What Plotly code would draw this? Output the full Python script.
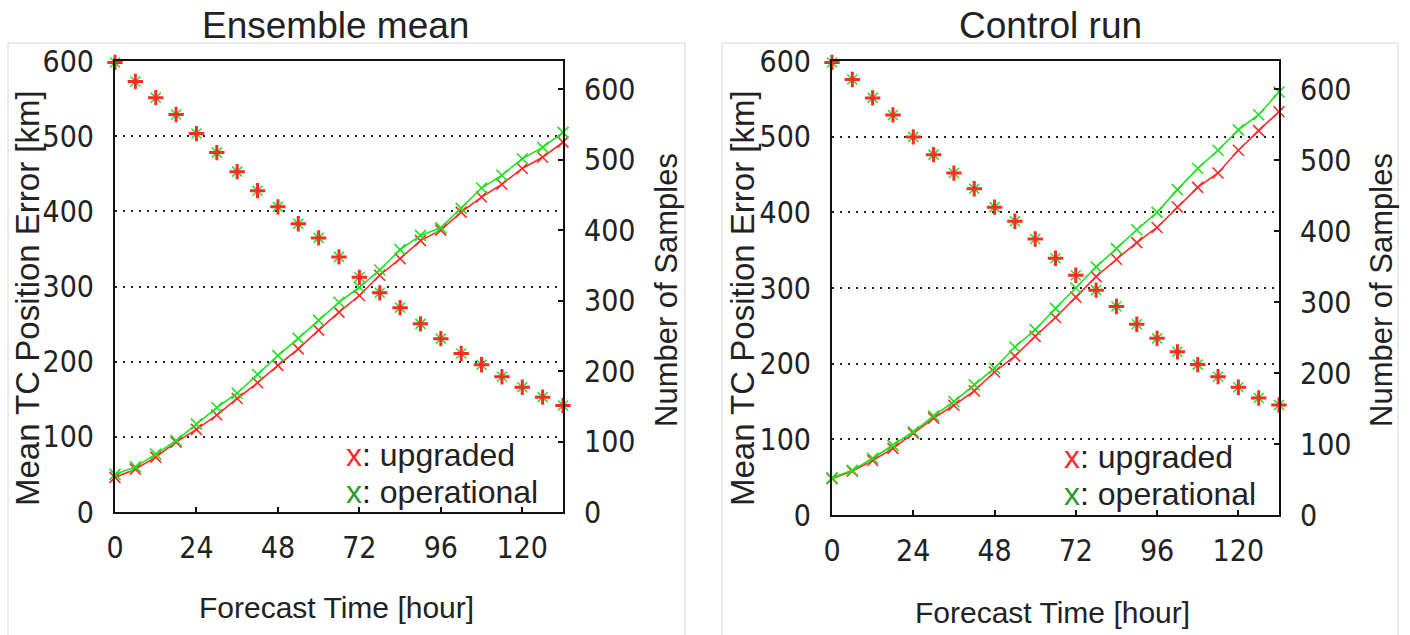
import plotly.graph_objects as go

# ---------------- data ----------------
hours = [0, 6, 12, 18, 24, 30, 36, 42, 48, 54, 60, 66, 72, 78, 84, 90, 96, 102, 108, 114, 120, 126, 132]

ens_upgraded = [46, 57, 73, 93, 110, 129, 151, 172, 195, 217, 242, 266, 288, 315, 337, 361, 375, 399, 419, 436, 457, 472, 492]
ens_operational = [50, 60, 77, 95, 117, 139, 158, 183, 208, 231, 255, 279, 299, 322, 349, 368, 378, 404, 431, 448, 470, 485, 505]
ens_samples = [638, 611, 588, 564, 537, 510, 483, 456, 433, 409, 389, 362, 333, 311, 290, 267, 246, 225, 209, 192, 177, 163, 151]

ctl_upgraded = [48, 58, 72, 88, 108, 128, 145, 164, 189, 210, 236, 261, 288, 315, 338, 360, 380, 407, 433, 452, 482, 508, 533]
ctl_operational = [49, 59, 75, 92, 110, 131, 150, 172, 194, 222, 245, 273, 300, 328, 352, 377, 400, 430, 458, 482, 509, 529, 559]
ctl_samples = [638, 614, 588, 564, 533, 508, 482, 460, 434, 414, 389, 362, 338, 317, 294, 269, 249, 230, 212, 195, 180, 165, 155]

panel_titles = ["Ensemble mean", "Control run"]
x_ticks = [0, 24, 48, 72, 96, 120]

RED = "#ff2a2a"
GREEN = "#22e022"
LEG_GREEN = "#2a9a2a"
TXT = "#222222"

W, H = 1410, 635
TICKFONT = dict(family="Liberation Sans Narrow, Arial Narrow, DejaVu Sans Condensed, Liberation Sans, Arial", size=30, color=TXT)
XLABFONT = dict(family="Liberation Sans, Arial, sans-serif", size=30, color=TXT)
YLABFONT = dict(family="Liberation Sans, Arial, sans-serif", size=33, color=TXT)
LEGFONT = dict(family="Liberation Sans, Arial, sans-serif", size=32, color=TXT)

fig = go.Figure()

panels = [
    dict(x0=115, x1=563, y0=61, y1=512, err=(ens_upgraded, ens_operational), samp=ens_samples,
         xa="x", ya="y", ya2="y2", frame=(8, 685)),
    dict(x0=832, x1=1279, y0=61, y1=515, err=(ctl_upgraded, ctl_operational), samp=ctl_samples,
         xa="x2", ya="y3", ya2="y4", frame=(722, 1398)),
]

for i, p in enumerate(panels):
    up, op = p["err"]
    fig.add_trace(go.Scatter(x=hours, y=up, mode="lines+markers", xaxis=p["xa"], yaxis=p["ya"],
                             line=dict(color=RED, width=1.6),
                             marker=dict(symbol="x-thin", size=11, line=dict(color=RED, width=1.6)),
                             cliponaxis=False, showlegend=False))
    fig.add_trace(go.Scatter(x=hours, y=op, mode="lines+markers", xaxis=p["xa"], yaxis=p["ya"],
                             line=dict(color=GREEN, width=1.6),
                             marker=dict(symbol="x-thin", size=11, line=dict(color=GREEN, width=1.6)),
                             cliponaxis=False, showlegend=False))
    fig.add_trace(go.Scatter(x=hours, y=p["samp"], mode="markers", xaxis=p["xa"], yaxis=p["ya2"],
                             marker=dict(symbol="x-thin", size=10, line=dict(color=GREEN, width=1.5)),
                             cliponaxis=False, showlegend=False))
    fig.add_trace(go.Scatter(x=hours, y=p["samp"], mode="markers", xaxis=p["xa"], yaxis=p["ya2"],
                             marker=dict(symbol="cross-thin", size=11, line=dict(color=RED, width=3)),
                             cliponaxis=False, showlegend=False))

def xdom(p):
    return [p["x0"] / W, p["x1"] / W]

def ydom(p):
    return [1 - p["y1"] / H, 1 - p["y0"] / H]

layout = dict(width=W, height=H, margin=dict(l=0, r=0, t=0, b=0, autoexpand=False),
              paper_bgcolor="white", plot_bgcolor="white", showlegend=False)

for i, p in enumerate(panels):
    xk = "xaxis" if i == 0 else "xaxis2"
    yk = "yaxis" if i == 0 else "yaxis3"
    y2k = "yaxis2" if i == 0 else "yaxis4"
    yname = "y" if i == 0 else "y3"
    xname = "x" if i == 0 else "x2"
    layout[xk] = dict(domain=xdom(p), range=[0, 132], tickvals=x_ticks, ticks="inside", ticklen=5,
                      tickcolor="#111", tickwidth=2, showline=True, mirror=True, linecolor="#111",
                      linewidth=2, showgrid=False, zeroline=False, tickfont=TICKFONT,
                      ticklabelstandoff=8, anchor=yname, automargin=False)
    layout[yk] = dict(domain=ydom(p), range=[0, 600], dtick=100, ticks="", showline=True, mirror=True,
                      linecolor="#111", linewidth=2, showgrid=True, gridcolor="#222", gridwidth=2,
                      griddash="2px,6px", zeroline=False, tickfont=TICKFONT, ticklabelstandoff=13,
                      anchor=xname, automargin=False)
    layout[y2k] = dict(overlaying=yname, side="right", range=[0, 640], dtick=100, ticks="inside",
                       ticklen=5, tickwidth=2, tickcolor="#111", showline=False, showgrid=False,
                       zeroline=False, tickfont=TICKFONT, ticklabelstandoff=20, anchor=xname,
                       automargin=False)

fig.update_layout(**layout)

for p in panels:
    fx0, fx1 = p["frame"]
    fig.add_shape(type="rect", xref="paper", yref="paper", x0=fx0 / W, x1=fx1 / W, y0=-0.05, y1=1 - 43 / H,
                  line=dict(color="#e4e4e4", width=1.5), fillcolor="rgba(0,0,0,0)", layer="below")

ann = []
centers = [(335, 25, 27, 666, 298, 336, 607, 344, 455, 492),
           (1050, 25, 742, 1381, 298, 1052, 612, 1062, 457, 494)]
for i, c in enumerate(centers):
    tx, ty, ylx, y2x, ymid, xtx, xty, lx, l1, l2 = c
    ann.append(dict(text=panel_titles[i], x=tx / W, y=1 - ty / H, xref="paper", yref="paper",
                    showarrow=False, font=dict(family="Liberation Sans, Arial", size=37, color=TXT),
                    xanchor="center", yanchor="middle"))
    ann.append(dict(text="Mean TC Position Error [km]", x=ylx / W, y=1 - ymid / H, xref="paper", yref="paper",
                    showarrow=False, textangle=-90, font=YLABFONT, xanchor="center", yanchor="middle"))
    ann.append(dict(text="Number of Samples", x=y2x / W, y=1 - 290 / H, xref="paper", yref="paper",
                    showarrow=False, textangle=-90, font=dict(YLABFONT, size=31), xanchor="center", yanchor="middle"))
    ann.append(dict(text="Forecast Time [hour]", x=xtx / W, y=1 - xty / H, xref="paper", yref="paper",
                    showarrow=False, font=XLABFONT, xanchor="center", yanchor="middle"))
    ann.append(dict(text=f"<span style='color:{RED}'>x</span>: upgraded", x=lx / W, y=1 - l1 / H,
                    xref="paper", yref="paper", showarrow=False, font=LEGFONT,
                    xanchor="left", yanchor="middle"))
    ann.append(dict(text=f"<span style='color:{LEG_GREEN}'>x</span>: operational", x=lx / W, y=1 - l2 / H,
                    xref="paper", yref="paper", showarrow=False, font=LEGFONT,
                    xanchor="left", yanchor="middle"))

fig.update_layout(annotations=ann)

fig.write_html("out.html", config={"displayModeBar": False},
               post_script="document.body.style.margin='0px';document.body.style.padding='0px';document.body.style.overflow='hidden';")
